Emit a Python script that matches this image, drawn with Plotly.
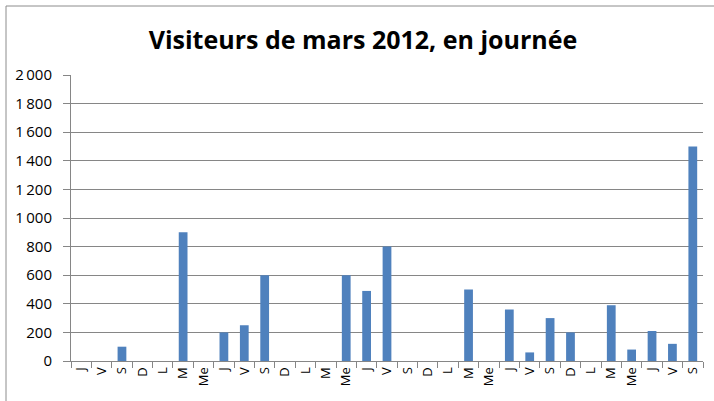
import plotly.graph_objects as go

# Days of March 2012 (March 1st was a Thursday)
day_numbers = [str(d) for d in range(1, 32)]
day_labels = ['J', 'V', 'S', 'D', 'L', 'M', 'Me',
              'J', 'V', 'S', 'D', 'L', 'M', 'Me',
              'J', 'V', 'S', 'D', 'L', 'M', 'Me',
              'J', 'V', 'S', 'D', 'L', 'M', 'Me',
              'J', 'V', 'S']
visitors = [0, 0, 100, 0, 0, 900, 0,
            200, 250, 600, 0, 0, 0, 600,
            490, 800, 0, 0, 0, 500, 0,
            360, 60, 300, 200, 0, 390, 80,
            210, 120, 1500]

y_ticks = [0, 200, 400, 600, 800, 1000, 1200, 1400, 1600, 1800, 2000]
y_tick_text = ['0', '200', '400', '600', '800', '1\u2009000', '1\u2009200',
               '1\u2009400', '1\u2009600', '1\u2009800', '2\u2009000']

fig = go.Figure(go.Bar(
    x=day_numbers,
    y=visitors,
    marker=dict(color='#4F81BD', line=dict(width=0)),
))

# plot area in pixels: left 71, right 703, top 75, bottom 361
pw, ph = 632, 286
fig.add_shape(type='rect', xref='paper', yref='paper',
              x0=(6 - 71) / pw, x1=1.2, y0=-0.5, y1=(361 - 6) / ph,
              line=dict(color='#8C8C8C', width=1), fillcolor='rgba(0,0,0,0)')

fig.update_layout(
    width=714, height=401,
    margin=dict(l=71, r=11, t=75, b=40, autoexpand=False),
    paper_bgcolor='white', plot_bgcolor='white',
    bargap=0.57,
    showlegend=False,
    font=dict(family='Open Sans', color='black'),
    title=dict(text='<b>Visiteurs de mars 2012, en journée</b>',
               x=363 / 714, xanchor='center', y=1 - 40 / 401, yanchor='middle',
               font=dict(size=25, family='Open Sans', color='black')),
)
fig.update_xaxes(
    type='category',
    tickmode='array', tickvals=day_numbers, ticktext=day_labels,
    tickangle=-90, tickfont=dict(size=13),
    tickson='boundaries', ticks='outside', ticklen=6, tickcolor='#868686',
    showline=True, linecolor='#868686', linewidth=1,
    showgrid=False,
)
fig.update_yaxes(
    range=[0, 2000],
    tickmode='array', tickvals=y_ticks, ticktext=y_tick_text,
    tickfont=dict(size=15), ticklabelstandoff=8,
    ticks='outside', ticklen=7, tickcolor='#868686',
    showline=True, linecolor='#868686', linewidth=1,
    showgrid=True, gridcolor='#868686', gridwidth=1,
    zeroline=False,
)

fig.write_html("out.html", config={'displayModeBar': False},
               post_script="document.body.style.margin='0';")
